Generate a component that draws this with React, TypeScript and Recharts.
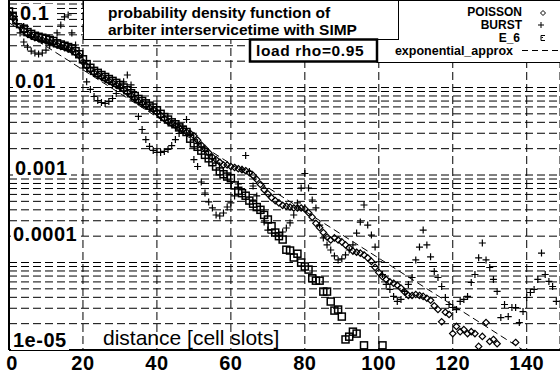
import { ScatterChart, Scatter, XAxis, YAxis, CartesianGrid } from 'recharts'

// distance in cell slots runs along the index of each density array
const xTicks = [0, 20, 40, 60, 80, 100, 120, 140]
const yLabelValues = [0.1, 0.01, 0.001, 0.0001, 0.00001]
const yLabelTexts = ['0.1', '0.01', '0.001', '0.0001', '1e-05']
const gridLevels = [
  0.1, 0.09, 0.08, 0.07, 0.06, 0.05, 0.04, 0.03, 0.02,
  0.01, 0.009, 0.008, 0.007, 0.006, 0.005, 0.004, 0.003, 0.002,
  0.001, 0.0009, 0.0008, 0.0007, 0.0006, 0.0005, 0.0004, 0.0003, 0.0002,
  0.0001, 0.00009, 0.00008, 0.00007, 0.00006, 0.00005, 0.00004, 0.00003, 0.00002,
  0.00001,
]

const poisson = [
  0.070, 0.063, 0.057, 0.051, 0.045, 0.041, 0.039, 0.037, 0.036, 0.035,
  0.034, 0.033, 0.032, 0.0306, 0.0294, 0.0287, 0.0276, 0.0265, 0.025, 0.0232,
  0.0196, 0.0176, 0.0159, 0.0147, 0.0139, 0.0132, 0.0125, 0.0119, 0.0113, 0.0107,
  0.0102, 0.0095, 0.0088, 0.0081, 0.0075, 0.0069, 0.0066, 0.0062, 0.0059, 0.0056,
  0.0052, 0.0048, 0.0044, 0.0041, 0.0039, 0.0037, 0.0035, 0.0033, 0.0031, 0.0030,
  0.0028, 0.0025, 0.0022, 0.0020, 0.0018, 0.0016, 0.0015, 0.0014, 0.0013, 0.0013,
  0.00125, 0.00122, 0.00118, 0.00115, 0.00112, 0.00106, 0.00099, 0.00089, 0.00078, 0.00068,
  0.00061, 0.00055, 0.00051, 0.00048, 0.00045, 0.00044, 0.00043, 0.00042, 0.00042, 0.00042,
  0.00041, 0.00037, 0.00033, 0.00028, 0.00025, 0.00022, 0.000196, 0.000181, 0.000191, 0.000181,
  0.000172, 0.000159, 0.000147, 0.000135, 0.000131, 0.000128, 0.000122, 0.000113, 0.000103, 0.000088,
  0.000077, 0.000069, 0.000064, 0.000060, 0.000058, 0.000055, 0.000051, 0.000046, 0.000042, 0.000042,
  0.000043, 0.000042, 0.000041, 0.000039, 0.000037, 0.000032, 0.000029, 0.000021, 0.000027, 0.0000255,
  0.0000154, 0.0000186, 0.0000162, 0.0000171, 0.0000154, 0.0000162, 0.0000154, 0.000011, 0.0000143, 0.0000206,
  0.0000125, 0.0000132, 0.0000118, null, null, null, null, 0.0000122,
]

const burst = [
  0.071, 0.0623, 0.0532, 0.042, 0.0331, 0.029, 0.0261, 0.0248, 0.0241, 0.0248,
  0.0268, 0.0306, 0.0349, 0.042, 0.0518, 0.064, 0.0674, 0.042, 0.0306, 0.0229,
  0.0167, 0.0116, 0.0095, 0.00789, 0.0071, 0.00674, 0.00657, 0.00692, 0.00749, 0.00854,
  0.01, 0.0116, 0.0139, 0.0107, 0.0073, 0.00467, 0.00331, 0.00254, 0.00212, 0.00191,
  0.00181, 0.00181, 0.00186, 0.00196, 0.00217, 0.00254, 0.00298, 0.00359, 0.00431, 0.0029,
  0.0015, 0.00125, 0.000832, 0.000623, 0.000492, 0.00042, 0.000349, 0.00034, 0.000368, 0.000431,
  0.000479, 0.000576, 0.000789, 0.00116, 0.00167, 0.0011, 0.000749, 0.000576, 0.000398, 0.00029,
  0.000235, 0.000217, 0.000217, 0.000206, 0.000223, 0.000248, 0.000283, 0.000349, 0.000479, 0.00071,
  0.00104, 0.00071, 0.000518, 0.00042, 0.000268, 0.000191, 0.000159, 0.000139, 0.000119, 0.000107,
  0.00011, 0.000122, 0.000139, 0.000159, 0.000217, 0.00029, 0.000454, 0.000268, 0.000206, 0.00015,
  0.000102, 0.0000729, 0.0000561, 0.0000492, 0.0000409, 0.0000359, 0.0000378, 0.0000467, 0.0000561, 0.0000674,
  0.000107, 0.00015, 0.000235, 0.000159, 0.000116, 0.0000789, 0.0000674, 0.0000532, 0.0000398, 0.0000331,
  0.0000306, 0.000029, 0.0000359, 0.0000378, 0.0000409, 0.0000591, 0.0000729, 0.000113, 0.000167, 0.000107,
  0.0000877, 0.000064, 0.0000467, 0.0000235, 0.0000331, 0.0000241, 0.0000306, 0.0000306, 0.0000206, 0.0000275,
  0.0000398, 0.0000454, 0.0000492, 0.000064, 0.000128, 0.0000729, 0.0000607, 0.0000532, 0.0000359,
]

const e6 = [
  0.074, 0.066, 0.059, 0.053, 0.047, 0.043, 0.041, 0.039, 0.038, 0.037,
  0.036, 0.035, 0.034, 0.032, 0.031, 0.030, 0.029, 0.028, 0.026, 0.024,
  0.021, 0.0185, 0.0168, 0.0155, 0.0147, 0.0139, 0.0132, 0.0125, 0.0119, 0.0113,
  0.0107, 0.0100, 0.0093, 0.0086, 0.0080, 0.0074, 0.0070, 0.0066, 0.0062, 0.0059,
  0.0055, 0.0050, 0.0046, 0.0043, 0.0040, 0.0038, 0.0035, 0.0033, 0.0031, 0.0026,
  0.0023, 0.0021, 0.0019, 0.0017, 0.00155, 0.0014, 0.00125, 0.0011, 0.00102, 0.00096,
  0.00092, 0.00076, 0.00066, 0.00062, 0.00058, 0.00051, 0.00047, 0.00043, 0.00040, 0.00035,
  0.00031, 0.00026, 0.00022, 0.00020, 0.000183, 0.00014, 0.000137, 0.000114, 0.000126, 0.0001,
  0.00009, 0.000083, 0.000066, 0.000062, 0.000062, 0.0000465, 0.0000465, 0.0000358, 0.0000282, 0.000029,
  0.0000241, 0.0000132, 0.0000142, 0.0000162, 0.0000154, null, 0.0000113, null, null, null,
  null, 0.0000113,
]

const expApproxX = [0, 139]
const expApproxY = [0.055, 0.00001]

const toPoints = (vals: (number | null)[]) =>
  vals.flatMap((v, i) => (v == null ? [] : [{ x: i, y: v }]))

const poissonData = toPoints(poisson)
const burstData = toPoints(burst)
const e6Data = toPoints(e6)
const expData = expApproxX.map((x, i) => ({ x, y: expApproxY[i] }))

const FONT = '"Liberation Sans", Arial, Helvetica, sans-serif'

// where each decade label sits, relative to its grid line
const labelLeft = [20, 15, 15, 13, 13]
const labelDy = [20, 0, 0, -22, -3]

const Diamond = (p: any) => (
  <path
    d={`M${p.cx} ${p.cy - 3.2}L${p.cx + 3.2} ${p.cy}L${p.cx} ${p.cy + 3.2}L${p.cx - 3.2} ${p.cy}Z`}
    fill="none"
    stroke="#000"
    strokeWidth={1.2}
  />
)

const Plus = (p: any) => (
  <path
    d={`M${p.cx - 3.5} ${p.cy}H${p.cx + 3.5}M${p.cx} ${p.cy - 3.5}V${p.cy + 3.5}`}
    stroke="#000"
    strokeWidth={1.2}
  />
)

const Square = (p: any) => (
  <rect x={p.cx - 3.5} y={p.cy - 3.5} width={7} height={7} fill="none" stroke="#000" strokeWidth={1.5} />
)

const Nothing = () => <g />

function YTick(props: any) {
  const { y, payload } = props
  const idx = yLabelValues.findIndex((v) => Math.abs(v / payload.value - 1) < 1e-6)
  if (idx < 0) return <g />
  const text = yLabelTexts[idx]
  const left = labelLeft[idx]
  const base = y + labelDy[idx]
  const w = text.length * 10.8
  return (
    <g>
      <rect x={left - 2} y={base - 16} width={w + 4} height={19} fill="#fff" />
      <text x={left} y={base} fontFamily={FONT} fontSize={20} fontWeight="bold" letterSpacing={0.5} fill="#000">
        {text}
      </text>
    </g>
  )
}

function XTick(props: any) {
  const { x, payload } = props
  return (
    <text
      x={payload.value === 0 ? x + 3 : x}
      y={370}
      textAnchor="middle"
      fontFamily={FONT}
      fontSize={20}
      fontWeight="bold"
      letterSpacing={0.5}
      fill="#000"
    >
      {payload.value}
    </text>
  )
}

function Overlay() {
  const bold = { fontFamily: FONT, fontWeight: 'bold' as const, fill: '#000' }
  return (
    <svg width={560} height={377} style={{ position: 'absolute', left: 0, top: 0, pointerEvents: 'none' }}>
      <line x1={8} y1={0.5} x2={560} y2={0.5} stroke="#000" strokeWidth={1} />
      <rect x={377} y={0.5} width={184} height={62} fill="#fff" stroke="#000" strokeWidth={1} />
      <rect x={83.5} y={0.5} width={315} height={39} fill="#fff" stroke="#000" strokeWidth={1} />
      <text x={108} y={18} fontSize={15.5} {...bold}>probability density function of</text>
      <text x={108} y={35} fontSize={15.5} {...bold}>arbiter interservicetime with SIMP</text>
      <rect x={250} y={39.5} width={127} height={22} fill="#fff" stroke="#000" strokeWidth={2.5} />
      <text x={256} y={56} fontSize={15.5} letterSpacing={0.6} {...bold}>load rho=0.95</text>

      <text x={522} y={16} fontSize={12} textAnchor="end" {...bold}>POISSON</text>
      <text x={522} y={29} fontSize={12} textAnchor="end" {...bold}>BURST</text>
      <text x={520} y={42} fontSize={12} textAnchor="end" {...bold}>E_6</text>
      <text x={513} y={55} fontSize={12.5} textAnchor="end" {...bold}>exponential_approx</text>
      <path d="M543 10.5L545.5 13L543 15.5L540.5 13Z" fill="none" stroke="#000" strokeWidth={1} />
      <path d="M538 25H544M541 22V28" stroke="#000" strokeWidth={1} />
      <path d="M545 35.5H541V40.5H545M543 37.5H541.5" fill="none" stroke="#000" strokeWidth={1} />
      <line x1={522} y1={50.5} x2={560} y2={50.5} stroke="#000" strokeWidth={1} strokeDasharray="6 4" />

      <text x={103} y={345} fontFamily={FONT} fontSize={21} fill="#000">distance [cell slots]</text>
    </svg>
  )
}

export default function App() {
  return (
    <div style={{ position: 'absolute', left: 0, top: 0, width: 560, height: 377, background: '#fff' }}>
      <ScatterChart width={560} height={377} margin={{ top: 0, right: 0, bottom: 0, left: 8 }}>
        <CartesianGrid stroke="#000" strokeWidth={1} strokeDasharray="8 4" />
        <XAxis
          type="number"
          dataKey="x"
          domain={[0, 149]}
          ticks={xTicks}
          interval={0}
          height={27}
          allowDataOverflow
          tickLine={false}
          axisLine={{ stroke: '#000', strokeWidth: 2 }}
          tick={<XTick />}
        />
        <YAxis
          type="number"
          dataKey="y"
          scale="log"
          domain={[0.00001, 0.1]}
          ticks={gridLevels}
          interval={0}
          width={1}
          allowDataOverflow
          tickLine={false}
          axisLine={{ stroke: '#000', strokeWidth: 2 }}
          tick={YTick}
        />
        <Scatter
          data={expData}
          fill="#000"
          line={{ stroke: '#000', strokeWidth: 1, strokeDasharray: '7 4' }}
          shape={Nothing}
          isAnimationActive={false}
        />
        <Scatter data={e6Data} shape={Square} isAnimationActive={false} />
        <Scatter data={burstData} shape={Plus} isAnimationActive={false} />
        <Scatter data={poissonData} shape={Diamond} isAnimationActive={false} />
      </ScatterChart>
      <Overlay />
    </div>
  )
}
